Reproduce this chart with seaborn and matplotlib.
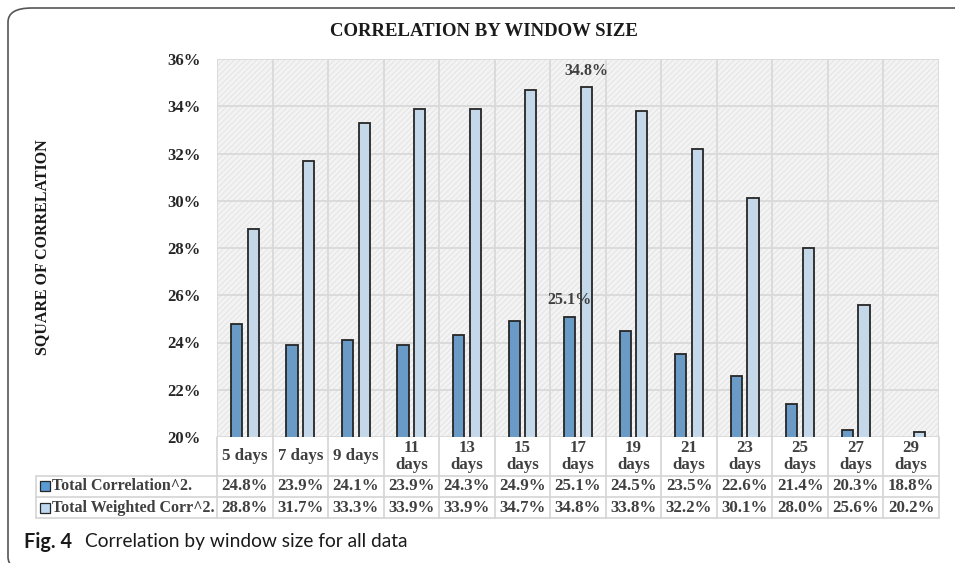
import numpy as np
import pandas as pd
import seaborn as sns
import matplotlib.pyplot as plt
import matplotlib.transforms as mtransforms
from matplotlib.patches import FancyBboxPatch, Rectangle

# data
windows = ["5 days", "7 days", "9 days", "11\ndays", "13\ndays", "15\ndays", "17\ndays",
           "19\ndays", "21\ndays", "23\ndays", "25\ndays", "27\ndays", "29\ndays"]
total_corr = [24.8, 23.9, 24.1, 23.9, 24.3, 24.9, 25.1, 24.5, 23.5, 22.6, 21.4, 20.3, 18.8]
weighted_corr = [28.8, 31.7, 33.3, 33.9, 33.9, 34.7, 34.8, 33.8, 32.2, 30.1, 28.0, 25.6, 20.2]
series_names = ["Total Correlation^2.", "Total Weighted Corr^2."]
yticks = [20, 22, 24, 26, 28, 30, 32, 34, 36]

dark = "#5B9BD5"
light = "#BFD8EF"
txt = "#404040"
serif = "Liberation Serif"

df = pd.DataFrame({
    "window": windows * 2,
    "series": [series_names[0]] * len(windows) + [series_names[1]] * len(windows),
    "value": total_corr + weighted_corr,
})

sns.set_style("white")
plt.rcParams["font.family"] = [serif, "DejaVu Sans"]
plt.rcParams["hatch.linewidth"] = 0.6

fig = plt.figure(figsize=(9.55, 5.63), dpi=100)
ax = fig.add_axes([217 / 955, 1 - 437 / 563, (939 - 217) / 955, (437 - 59) / 563])

# hatched light-gray plot background
ax.set_facecolor("#f3f3f3")
ax.add_patch(Rectangle((0, 0), 1, 1, transform=ax.transAxes, facecolor="none",
                       edgecolor="#e2e2e2", hatch="//////", lw=0, zorder=0))

sns.barplot(data=df, x="window", y="value", hue="series", palette=[dark, light],
            width=0.6, gap=0.33, edgecolor="#262626", linewidth=1.3,
            ax=ax, legend=False, zorder=3)

ax.set_xlim(-0.5, 12.5)
ax.set_ylim(20, 36)
ax.set_yticks(yticks)
ax.set_yticklabels([f"{t}%" for t in yticks], fontsize=12, fontweight="bold", color="#262626")
ax.tick_params(axis="y", length=0, pad=12)
ax.set_xticks(np.arange(-0.5, 13, 1))
ax.set_xticklabels([])
ax.tick_params(axis="x", length=0)
ax.set_axisbelow(True)
ax.grid(True, color="#d9d9d9", lw=1.3)
for s in ax.spines.values():
    s.set_visible(False)
ax.set_xlabel("")
ax.set_ylabel("")

# data labels on the 17-day bars
ax.text(6 - 0.15, 25.1 + 0.35, "25.1%", ha="center", va="bottom", fontsize=11.5,
        fontweight="bold", color=txt, zorder=5)
ax.text(6 + 0.15, 34.8 + 0.35, "34.8%", ha="center", va="bottom", fontsize=11.5,
        fontweight="bold", color=txt, zorder=5)

# data table under the plot
tr = mtransforms.blended_transform_factory(ax.transData, ax.transAxes)
y_head, y_r1, y_r2 = -0.1019, -0.1587, -0.2156
x_left = -3.755
lc = "#d4d4d4"
for i in range(14):
    ax.plot([i - 0.5, i - 0.5], [0, y_r2], transform=tr, color=lc, lw=1.2, clip_on=False)
ax.plot([x_left, x_left], [y_head, y_r2], transform=tr, color=lc, lw=1.2, clip_on=False)
for yy in [y_head, y_r1, y_r2]:
    ax.plot([x_left, 12.5], [yy, yy], transform=tr, color=lc, lw=1.2, clip_on=False)

fs = 12.2
for i, w in enumerate(windows):
    ax.text(i, (0 + y_head) / 2, w, transform=tr, ha="center", va="center",
            fontsize=fs, fontweight="bold", color=txt, linespacing=1.05)
    ax.text(i, (y_head + y_r1) / 2, f"{total_corr[i]:.1f}%", transform=tr, ha="center",
            va="center", fontsize=fs, fontweight="bold", color=txt)
    ax.text(i, (y_r1 + y_r2) / 2, f"{weighted_corr[i]:.1f}%", transform=tr, ha="center",
            va="center", fontsize=fs, fontweight="bold", color=txt)

for yy, col, name in [((y_head + y_r1) / 2, dark, series_names[0]),
                      ((y_r1 + y_r2) / 2, light, series_names[1])]:
    ax.plot([x_left + 0.15], [yy], transform=tr, marker="s", ms=7.5, mfc=col, mec="#262626",
            mew=0.9, clip_on=False)
    ax.text(x_left + 0.29, yy, name, transform=tr, ha="left", va="center",
            fontsize=11.5, fontweight="bold", color=txt)

# title and axis label
fig.text(484 / 955, 1 - 32 / 563, "CORRELATION BY WINDOW SIZE", ha="center", va="center",
         fontsize=13.5, fontweight="bold", color="#1a1a1a")
fig.text(42 / 955, 1 - 247 / 563, "SQUARE OF CORRELATION", ha="center", va="center",
         rotation=90, fontsize=11.5, fontweight="bold", color="#1a1a1a")

# caption
fig.text(24 / 955, 1 - 542 / 563, "Fig. 4", ha="left", va="center", fontsize=14.3,
         fontweight="bold", family="Lato", color="#1a1a1a")
fig.text(85 / 955, 1 - 542 / 563, "Correlation by window size for all data", ha="left",
         va="center", fontsize=13.8, family="Lato", color="#1a1a1a")

# rounded frame
fig.patches.append(FancyBboxPatch((8 / 955, -8 / 563), 1.05, 1.0,
                                  boxstyle="round,pad=0,rounding_size=0.025",
                                  transform=fig.transFigure, facecolor="none",
                                  edgecolor="#555555", lw=1.2))

fig.savefig("out.png", dpi=100)
